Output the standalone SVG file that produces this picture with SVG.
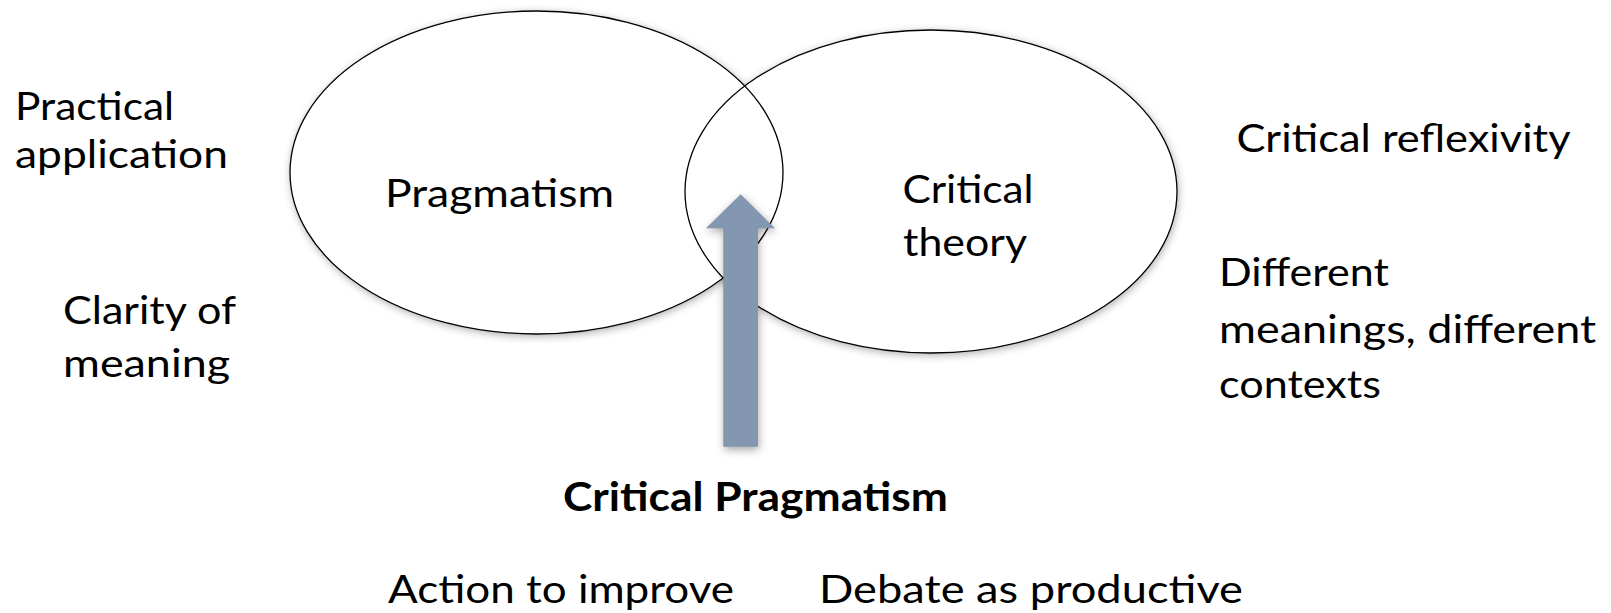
<svg xmlns="http://www.w3.org/2000/svg" width="1611" height="613" viewBox="0 0 1611 613">
<style>
text { font-family: Lato, "Open Sans", "Liberation Sans", sans-serif; font-size: 39px; fill: #000; }
.bold { font-weight: bold; font-size: 40px; }
.shape { fill: none; stroke: #000; stroke-width: 1.3; }
.fillw { fill: #fff; stroke: none; }
.shadow { fill: #000; fill-opacity: 0.35; filter: url(#blur); }
.arrow { fill: #8497b0; }
</style>
<defs>
<filter id="blur" x="-20%" y="-20%" width="140%" height="140%">
<feGaussianBlur stdDeviation="4"/>
</filter>
</defs>
<rect width="1611" height="613" fill="#fff"/>
<g id="shadows">
<ellipse class="shadow" cx="537.5" cy="174.5" rx="246.5" ry="161.5"/>
<ellipse class="shadow" cx="932" cy="193.5" rx="246" ry="161.5"/>
</g>
<g id="fills">
<ellipse class="fillw" cx="536.5" cy="172.5" rx="246.5" ry="161.5"/>
<ellipse class="fillw" cx="931" cy="191.5" rx="246" ry="161.5"/>
</g>
<g id="node-pragmatism">
<ellipse class="shape" cx="536.5" cy="172.5" rx="246.5" ry="161.5"/>
<text x="385" y="206.5" textLength="229" lengthAdjust="spacingAndGlyphs">Pragmatism</text>
</g>
<g id="node-critical-theory">
<ellipse class="shape" cx="931" cy="191.5" rx="246" ry="161.5"/>
<text x="902.5" y="203.3" textLength="131" lengthAdjust="spacingAndGlyphs">Critical</text>
<text x="903" y="256" textLength="124" lengthAdjust="spacingAndGlyphs">theory</text>
</g>
<g id="connectors">
<polygon class="shadow" points="741.7,197.3 776,231.3 758.7,231.3 758.7,449.7 724.3,449.7 724.3,231.3 707,231.3"/>
<polygon class="arrow" points="740.7,194.3 775,228.3 758,228.3 758,446.7 723.3,446.7 723.3,228.3 706,228.3"/>
</g>
<g id="label-practical">
<text x="15" y="119.5" textLength="159" lengthAdjust="spacingAndGlyphs">Practical</text>
<text x="15" y="167.5" textLength="213" lengthAdjust="spacingAndGlyphs">application</text>
</g>
<g id="label-clarity">
<text x="63" y="323.5" textLength="173" lengthAdjust="spacingAndGlyphs">Clarity of</text>
<text x="63" y="376.5" textLength="167" lengthAdjust="spacingAndGlyphs">meaning</text>
</g>
<g id="label-reflexivity">
<text x="1236.5" y="151.7" textLength="334" lengthAdjust="spacingAndGlyphs">Critical reflexivity</text>
</g>
<g id="label-different">
<text x="1219" y="285.7" textLength="170" lengthAdjust="spacingAndGlyphs">Different</text>
<text x="1219" y="343" textLength="377" lengthAdjust="spacingAndGlyphs">meanings, different</text>
<text x="1219" y="398.3" textLength="162" lengthAdjust="spacingAndGlyphs">contexts</text>
</g>
<g id="label-critical-pragmatism">
<text class="bold" x="563" y="511" textLength="385" lengthAdjust="spacingAndGlyphs">Critical Pragmatism</text>
</g>
<g id="label-action">
<text x="388" y="603.3" textLength="346" lengthAdjust="spacingAndGlyphs">Action to improve</text>
</g>
<g id="label-debate">
<text x="819" y="603.3" textLength="424" lengthAdjust="spacingAndGlyphs">Debate as productive</text>
</g>
</svg>
